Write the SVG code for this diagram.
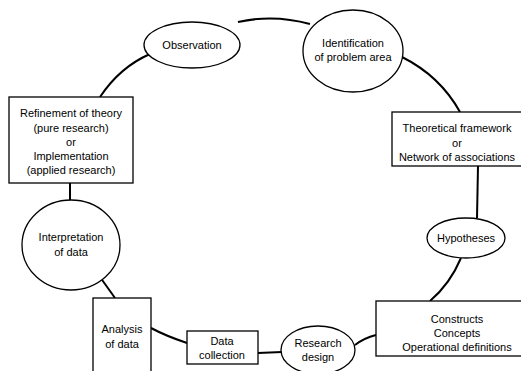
<svg xmlns="http://www.w3.org/2000/svg" width="521" height="371" viewBox="0 0 521 371">
<style>
.n{fill:#fff;stroke:#000;stroke-width:1.3}
.c{fill:none;stroke:#000;stroke-width:2}
text{font-family:"Liberation Sans",Arial,sans-serif;font-size:11px;fill:#000;text-anchor:middle}
</style>
<rect width="521" height="371" fill="#fff"/>
<g id="connectors">
<path class="c" d="M238,22 Q274,14 310,24"/>
<path class="c" d="M402,57 Q440,76 460,112"/>
<path class="c" d="M478,166 L477,218"/>
<path class="c" d="M461,258 Q450,284 430,301"/>
<path class="c" d="M376,335 Q364,338 355,345"/>
<path class="c" d="M282,352 L258,353"/>
<path class="c" d="M187,343 Q166,336 151,328"/>
<path class="c" d="M115,298 L100,277"/>
<path class="c" d="M70,200 L70,183"/>
<path class="c" d="M100,97 Q120,67 150,54"/>
</g>
<g id="observation">
<ellipse class="n" cx="192" cy="45" rx="48" ry="23"/>
<text x="192" y="49">Observation</text>
</g>
<g id="identification">
<ellipse class="n" cx="353" cy="51" rx="50" ry="41"/>
<text x="353" y="47">Identification</text>
<text x="353" y="61">of problem area</text>
</g>
<g id="theoretical">
<rect class="n" x="392" y="112" width="135" height="54"/>
<text x="457" y="132">Theoretical framework</text>
<text x="457" y="147">or</text>
<text x="457" y="161">Network of associations</text>
</g>
<g id="hypotheses">
<ellipse class="n" cx="466" cy="238" rx="39" ry="20"/>
<text x="466" y="242">Hypotheses</text>
</g>
<g id="constructs">
<rect class="n" x="376" y="301" width="150" height="55"/>
<text x="457" y="323">Constructs</text>
<text x="457" y="337">Concepts</text>
<text x="457" y="351">Operational definitions</text>
</g>
<g id="research-design">
<ellipse class="n" cx="318" cy="350" rx="37" ry="24"/>
<text x="318" y="347">Research</text>
<text x="318" y="361">design</text>
</g>
<g id="data-collection">
<rect class="n" x="187" y="331" width="71" height="33"/>
<text x="222" y="345">Data</text>
<text x="222" y="359">collection</text>
</g>
<g id="analysis">
<rect class="n" x="93" y="298" width="58" height="80"/>
<text x="122" y="333">Analysis</text>
<text x="122" y="348">of data</text>
</g>
<g id="interpretation">
<ellipse class="n" cx="71" cy="245" rx="49" ry="45"/>
<text x="71" y="241">Interpretation</text>
<text x="71" y="256">of data</text>
</g>
<g id="refinement">
<rect class="n" x="9" y="97" width="124" height="86"/>
<text x="71" y="117">Refinement of theory</text>
<text x="71" y="132">(pure research)</text>
<text x="71" y="146">or</text>
<text x="71" y="160">Implementation</text>
<text x="71" y="174">(applied research)</text>
</g>
</svg>
